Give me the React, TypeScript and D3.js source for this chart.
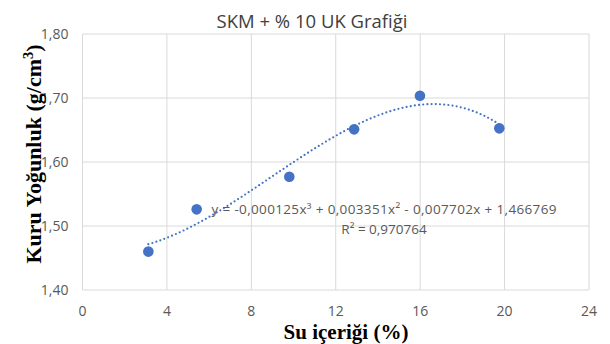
import React, { useEffect, useRef } from 'react';
import * as d3 from 'd3';

// Su içeriği (%) vs Kuru Yoğunluk (g/cm3)
const suIcerigi = [3.12, 5.41, 9.8, 12.87, 15.99, 19.75];
const kuruYogunluk = [1.46, 1.526, 1.577, 1.651, 1.7035, 1.6526];
// polynomial trendline (order 3) as shown on the chart
const trendCoef = [1.466769, -0.007702, 0.003351, -0.000125];
const xTicks = [0, 4, 8, 12, 16, 20, 24];
const yTicks = [1.4, 1.5, 1.6, 1.7, 1.8];
const eqLabel = 'y = -0,000125x³ + 0,003351x² - 0,007702x + 1,466769';
const r2Label = 'R² = 0,970764';

const App = () => {
  const svgRef = useRef<SVGSVGElement>(null);

  useEffect(() => {
    const W = 610, H = 344;
    const margin = { top: 34, right: 21, bottom: 54, left: 82.5 };
    const width = W - margin.left - margin.right;
    const height = H - margin.top - margin.bottom;

    const root = d3.select(svgRef.current);
    root.selectAll('*').remove();
    root.append('rect').attr('width', W).attr('height', H).attr('fill', '#fff');

    const svg = root.append('g')
      .attr('transform', `translate(${margin.left},${margin.top})`);

    const x = d3.scaleLinear().domain([0, 24]).range([0, width]);
    const y = d3.scaleLinear().domain([1.4, 1.8]).range([height, 0]);
    const fmt = (v: number) => d3.format('.2f')(v).replace('.', ',');

    // grid
    svg.selectAll('.vg').data(xTicks).enter().append('line')
      .attr('x1', d => x(d)).attr('x2', d => x(d))
      .attr('y1', 0).attr('y2', height)
      .attr('stroke', '#d9d9d9').attr('stroke-width', 1);
    svg.selectAll('.hg').data(yTicks).enter().append('line')
      .attr('x1', 0).attr('x2', width)
      .attr('y1', d => y(d)).attr('y2', d => y(d))
      .attr('stroke', '#d9d9d9').attr('stroke-width', 1);

    // tick labels
    svg.selectAll('.xt').data(xTicks).enter().append('text')
      .attr('x', d => x(d)).attr('y', height + 26)
      .attr('text-anchor', 'middle')
      .attr('font-family', 'Open Sans, sans-serif').attr('font-size', 14)
      .attr('fill', '#595959')
      .text(d => d);
    svg.selectAll('.yt').data(yTicks).enter().append('text')
      .attr('x', -14).attr('y', d => y(d) + 5)
      .attr('text-anchor', 'end')
      .attr('font-family', 'Open Sans, sans-serif').attr('font-size', 14)
      .attr('fill', '#595959')
      .text(d => fmt(d));

    // trendline
    const [x0, x1] = d3.extent(suIcerigi) as [number, number];
    const poly = (v: number) => trendCoef.reduce((s, c, i) => s + c * Math.pow(v, i), 0);
    const trend = d3.range(x0, x1 + 0.001, (x1 - x0) / 100).map(v => [v, poly(v)]);
    svg.append('path')
      .datum(trend)
      .attr('fill', 'none')
      .attr('stroke', '#4472c4')
      .attr('stroke-width', 2.2)
      .attr('stroke-linecap', 'round')
      .attr('stroke-dasharray', '0 4.2')
      .attr('d', d3.line<number[]>().x(d => x(d[0])).y(d => y(d[1])).curve(d3.curveMonotoneX));

    // points
    svg.selectAll('.pt').data(suIcerigi).enter().append('circle')
      .attr('cx', d => x(d)).attr('cy', (d, i) => y(kuruYogunluk[i]))
      .attr('r', 5.3).attr('fill', '#4472c4');

    // equation label
    const eq = svg.append('text')
      .attr('x', 384 - margin.left).attr('y', 214 - margin.top)
      .attr('text-anchor', 'middle')
      .attr('font-family', 'Open Sans, sans-serif').attr('font-size', 13.5)
      .attr('fill', '#595959');
    eq.append('tspan').attr('x', 384 - margin.left).attr('textLength', 345).text(eqLabel);
    eq.append('tspan').attr('x', 384 - margin.left).attr('dy', 20).text(r2Label);

    // title
    root.append('text')
      .attr('x', 312).attr('y', 28)
      .attr('text-anchor', 'middle')
      .attr('font-family', 'Open Sans, sans-serif').attr('font-size', 18.5)
      .attr('fill', '#404040')
      .text('SKM + % 10 UK Grafiği');

    // axis titles
    root.append('text')
      .attr('x', 346).attr('y', 339)
      .attr('text-anchor', 'middle')
      .attr('font-family', 'Liberation Serif, Times New Roman, serif')
      .attr('font-weight', 'bold').attr('font-size', 21)
      .attr('fill', '#000')
      .text('Su içeriği (%)');
    const yt = root.append('text')
      .attr('transform', `translate(40.5,154) rotate(-90)`)
      .attr('text-anchor', 'middle')
      .attr('font-family', 'Liberation Serif, Times New Roman, serif')
      .attr('font-weight', 'bold').attr('font-size', 22)
      .attr('fill', '#000');
    yt.append('tspan').text('Kuru Yoğunluk (g/cm');
    yt.append('tspan').attr('font-size', 14.5).attr('dy', -8).text('3');
    yt.append('tspan').attr('dy', 8).text(')');
  }, []);

  return (
    <svg ref={svgRef} width={610} height={344}
      style={{ position: 'absolute', left: 0, top: 0, display: 'block' }} />
  );
};

export default App;
